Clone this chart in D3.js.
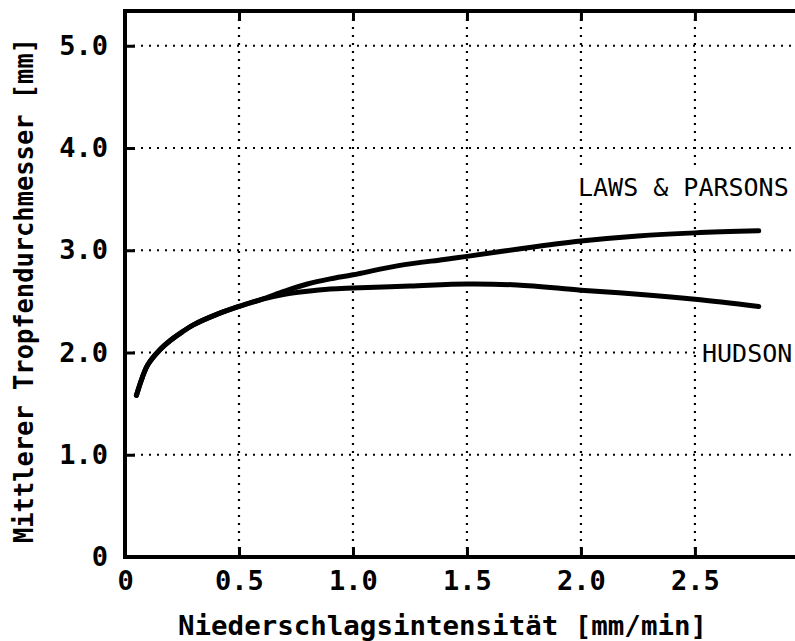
<!DOCTYPE html>
<html><head><meta charset="utf-8">
<script src="https://cdn.jsdelivr.net/npm/d3@7"></script>
<style>body{margin:0;background:#fff}svg{display:block}</style>
</head><body>
<script>
const xTicks = [0, 0.5, 1.0, 1.5, 2.0, 2.5];
const xTickLabels = ["0", "0.5", "1.0", "1.5", "2.0", "2.5"];
const yTicks = [0, 1, 2, 3, 4, 5];
const yTickLabels = ["0", "1.0", "2.0", "3.0", "4.0", "5.0"];

const lawsX = [0.05, 0.075, 0.1, 0.15, 0.2, 0.25, 0.3, 0.4, 0.5, 0.6, 0.7, 0.8, 0.9, 1.0, 1.2, 1.4, 1.5, 1.75, 2.0, 2.25, 2.5, 2.78];
const lawsY = [1.58, 1.75, 1.88, 2.02, 2.12, 2.2, 2.27, 2.37, 2.45, 2.52, 2.6, 2.67, 2.72, 2.76, 2.85, 2.91, 2.94, 3.02, 3.09, 3.14, 3.17, 3.19];
const hudsonX = [0.05, 0.075, 0.1, 0.15, 0.2, 0.25, 0.3, 0.4, 0.5, 0.6, 0.7, 0.8, 0.9, 1.0, 1.25, 1.5, 1.72, 2.0, 2.25, 2.5, 2.78];
const hudsonY = [1.58, 1.75, 1.88, 2.02, 2.12, 2.2, 2.27, 2.37, 2.45, 2.52, 2.57, 2.6, 2.62, 2.63, 2.65, 2.67, 2.66, 2.61, 2.57, 2.52, 2.45];

const seriesLabels = ["LAWS & PARSONS", "HUDSON"];
const xTitle = "Niederschlagsintensität [mm/min]";
const yTitle = "Mittlerer Tropfendurchmesser [mm]";

const W = 795, H = 641;
const svg = d3.select("body").append("svg").attr("width", W).attr("height", H);
const x = d3.scaleLinear().domain([0, 2.939]).range([125, 795]);
const y = d3.scaleLinear().domain([0, 5.34]).range([557, 11]);
const mono = "'DejaVu Sans Mono', 'Liberation Mono', monospace";

// grid
const g = svg.append("g");
g.selectAll(".vg").data(xTicks.slice(1)).enter().append("line")
  .attr("x1", d => x(d)).attr("x2", d => x(d)).attr("y1", y.range()[1]).attr("y2", y.range()[0])
  .attr("stroke", "#000").attr("stroke-width", 2.2).attr("stroke-dasharray", "2,6");
g.selectAll(".hg").data(yTicks.slice(1)).enter().append("line")
  .attr("x1", x.range()[0]).attr("x2", x.range()[1]).attr("y1", d => y(d)).attr("y2", d => y(d))
  .attr("stroke", "#000").attr("stroke-width", 2.2).attr("stroke-dasharray", "2,6");

// label backgrounds
svg.append("rect").attr("x", 572).attr("y", 168).attr("width", 223).attr("height", 34).attr("fill", "#fff");
svg.append("rect").attr("x", 698).attr("y", 338).attr("width", 97).attr("height", 30).attr("fill", "#fff");

// curves
const line = d3.line().x(d => x(d[0])).y(d => y(d[1])).curve(d3.curveCatmullRom.alpha(0.5));
svg.append("path").datum(hudsonX.map((v, i) => [v, hudsonY[i]]))
  .attr("d", line).attr("fill", "none").attr("stroke", "#000").attr("stroke-width", 5).attr("stroke-linecap", "round");
svg.append("path").datum(lawsX.map((v, i) => [v, lawsY[i]]))
  .attr("d", line).attr("fill", "none").attr("stroke", "#000").attr("stroke-width", 5).attr("stroke-linecap", "round");

// axes
const axBottom = d3.axisBottom(x).tickValues(xTicks).tickSize(-10).tickFormat((d, i) => xTickLabels[i]).tickPadding(14);
const axTop = d3.axisTop(x).tickValues(xTicks).tickSize(-10).tickFormat("");
const axLeft = d3.axisLeft(y).tickValues(yTicks).tickSize(-10).tickFormat((d, i) => yTickLabels[i]).tickPadding(17);

function styleAxis(sel) {
  sel.select(".domain").remove();
  sel.selectAll(".tick line").attr("stroke", "#000").attr("stroke-width", 3);
  sel.selectAll("text").attr("font-family", mono).attr("font-weight", "bold").attr("font-size", 27).attr("fill", "#000");
}
svg.append("g").attr("transform", `translate(0,${y(0)})`).call(axBottom).call(styleAxis);
svg.append("g").attr("transform", `translate(0,${y.range()[1]})`).call(axTop).call(styleAxis);
svg.append("g").attr("transform", `translate(${x(0)},0)`).call(axLeft).call(styleAxis);

// frame lines
svg.append("line").attr("x1", x.range()[0]).attr("x2", x.range()[1]).attr("y1", y(0)).attr("y2", y(0)).attr("stroke", "#000").attr("stroke-width", 4);
svg.append("line").attr("x1", x.range()[0] - 2).attr("x2", x.range()[1]).attr("y1", y.range()[1]).attr("y2", y.range()[1]).attr("stroke", "#000").attr("stroke-width", 4);
svg.append("line").attr("x1", x(0)).attr("x2", x(0)).attr("y1", y.range()[1] - 2).attr("y2", y(0) + 2).attr("stroke", "#000").attr("stroke-width", 4);

// series labels
svg.append("text").attr("x", 578).attr("y", 196).text(seriesLabels[0])
  .attr("font-family", mono).attr("font-size", 25);
svg.append("text").attr("x", 702).attr("y", 362).text(seriesLabels[1])
  .attr("font-family", mono).attr("font-size", 25);

// titles
svg.append("text").attr("x", 178).attr("y", 635).text(xTitle)
  .attr("font-family", mono).attr("font-weight", "bold").attr("font-size", 26)
  .attr("textLength", 529).attr("lengthAdjust", "spacingAndGlyphs");
svg.append("text").attr("transform", "translate(33,543) rotate(-90)").text(yTitle)
  .attr("font-family", mono).attr("font-weight", "bold").attr("font-size", 26)
  .attr("textLength", 505).attr("lengthAdjust", "spacingAndGlyphs");
</script>
</body></html>
